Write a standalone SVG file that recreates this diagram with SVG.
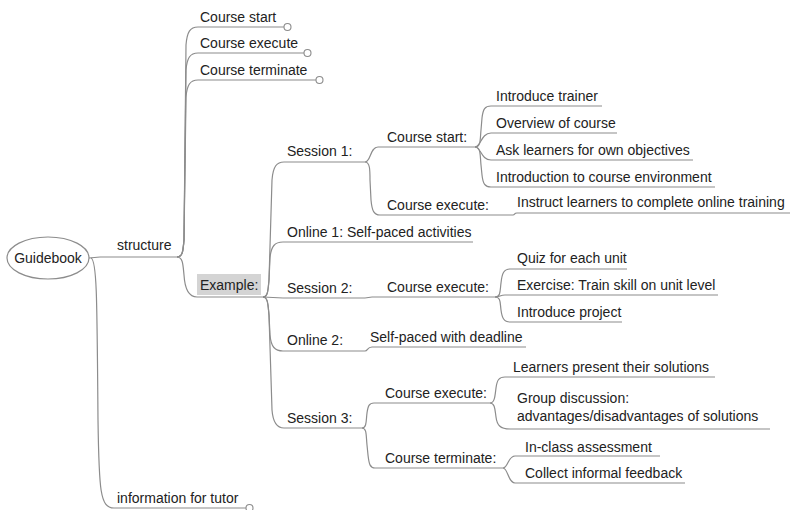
<svg xmlns="http://www.w3.org/2000/svg" width="791" height="510" viewBox="0 0 791 510">
<style>
text{font-family:"Liberation Sans",Arial,sans-serif;font-size:14px;fill:#222}
.u{stroke:#8c8c8c;stroke-width:1.2;fill:none}
.k{stroke:#8c8c8c;stroke-width:1.2;fill:none}
.c{stroke:#8c8c8c;stroke-width:1.1;fill:#fff}
</style>
<rect width="791" height="510" fill="#fff"/>
<g id="connectors">
<path class="k" d="M89 258 L100 257"/>
<path class="k" d="M91 258 C97 260 97 300 98 420 C99 490 100 508 114 508"/>
<path class="k" d="M177 257 C183 257 183 250 184 240 L186 45 C187 32 190 27 198 27"/>
<path class="k" d="M177 257 C183 257 183 250 184 240 L186 70 C187 58 190 53 198 53"/>
<path class="k" d="M177 257 C183 257 183 250 184 240 L186 97 C187 85 190 80 198 80"/>
<path class="k" d="M177 257 C183 257 183 265 184 275 C185 292 190 297 197 297"/>
<path class="k" d="M263 297 C268 297 268 290 269 280 L272 180 C273 166 277 162 284 162"/>
<path class="k" d="M263 297 C268 297 268 290 269 280 L270 258 C271 246 275 242 283 242"/>
<path class="k" d="M263 297 L283 298"/>
<path class="k" d="M263 297 C268 297 268 305 269 315 L270 335 C271 347 275 351 283 351"/>
<path class="k" d="M263 297 C268 297 268 305 269 315 L272 410 C273 423 277 428 284 428"/>
<path class="k" d="M365 162 C371 162 370 147 378 147"/>
<path class="k" d="M365 162 C370 162 370 170 370 180 L371 200 C372 211 374 215 380 215"/>
<path class="k" d="M475 147 C481 147 480 140 481 130 L482 118 C483 109 485 106 491 106"/>
<path class="k" d="M475 147 C481 147 481 133 491 133"/>
<path class="k" d="M475 147 C481 147 481 160 491 160"/>
<path class="k" d="M475 147 C481 147 480 155 481 165 L482 175 C483 184 485 187 491 187"/>
<path class="k" d="M513 215 C515 215 514 213 517 213"/>
<path class="k" d="M365 298 L372 297"/>
<path class="k" d="M495 297 C501 297 500 290 501 283 C502 273 504 269 510 269"/>
<path class="k" d="M495 297 C500 297 500 295 505 295"/>
<path class="k" d="M495 297 C501 297 500 303 501 310 C502 318 504 322 510 322"/>
<path class="k" d="M365 351 C368 351 367 347 372 347"/>
<path class="k" d="M362 428 C367 428 366 420 367 413 C368 406 369 403 374 403"/>
<path class="k" d="M362 428 C367 428 366 436 367 445 L368 455 C369 464 370 468 375 468"/>
<path class="k" d="M490 403 C495 403 495 395 496 388 C497 380 499 377 505 377"/>
<path class="k" d="M490 403 C495 403 495 410 496 417 C497 425 500 429 510 429"/>
<path class="k" d="M503 468 C508 468 508 456 515 456"/>
<path class="k" d="M503 468 C508 468 508 483 515 483"/>
</g>
<g id="guidebook"><ellipse cx="48" cy="258" rx="41" ry="21" fill="#fff" stroke="#8c8c8c" stroke-width="1.2"/><text x="48" y="263" text-anchor="middle">Guidebook</text></g>
<g id="structure"><text x="117" y="250">structure</text><path class="u" d="M100 257 H177"/></g>
<g id="top-course-start"><text x="200" y="22">Course start</text><path class="u" d="M198 27 H284"/><circle class="c" cx="287.5" cy="27" r="3.5"/></g>
<g id="top-course-execute"><text x="200" y="48">Course execute</text><path class="u" d="M198 53 H304"/><circle class="c" cx="307.5" cy="53" r="3.5"/></g>
<g id="top-course-terminate"><text x="200" y="75">Course terminate</text><path class="u" d="M198 80 H316"/><circle class="c" cx="319.5" cy="80" r="3.5"/></g>
<g id="example"><rect x="197" y="274" width="64" height="21" fill="#d4d4d4"/><text x="200" y="290">Example:</text><path class="u" d="M197 297 H263"/></g>
<g id="session1"><text x="287" y="156">Session 1:</text><path class="u" d="M284 162 H365"/></g>
<g id="s1-course-start"><text x="387" y="142">Course start:</text><path class="u" d="M378 147 H475"/></g>
<g id="introduce-trainer"><text x="496" y="101">Introduce trainer</text><path class="u" d="M491 106 H602"/></g>
<g id="overview"><text x="496" y="128">Overview of course</text><path class="u" d="M491 133 H617"/></g>
<g id="ask-learners"><text x="496" y="155">Ask learners for own objectives</text><path class="u" d="M491 160 H693"/></g>
<g id="introduction"><text x="496" y="182">Introduction to course environment</text><path class="u" d="M491 187 H715"/></g>
<g id="s1-course-execute"><text x="387" y="210">Course execute:</text><path class="u" d="M380 215 H513"/></g>
<g id="instruct"><text x="517" y="207">Instruct learners to complete online training</text><path class="u" d="M517 213 H790"/></g>
<g id="online1"><text x="287" y="237">Online 1: Self-paced activities</text><path class="u" d="M283 242 H473"/></g>
<g id="session2"><text x="287" y="293">Session 2:</text><path class="u" d="M283 298 H365"/></g>
<g id="s2-course-execute"><text x="387" y="292">Course execute:</text><path class="u" d="M372 297 H495"/></g>
<g id="quiz"><text x="517" y="263">Quiz for each unit</text><path class="u" d="M510 269 H627"/></g>
<g id="exercise"><text x="517" y="290">Exercise: Train skill on unit level</text><path class="u" d="M505 295 H718"/></g>
<g id="introduce-project"><text x="517" y="317">Introduce project</text><path class="u" d="M510 322 H622"/></g>
<g id="online2"><text x="287" y="345">Online 2:</text><path class="u" d="M283 351 H365"/></g>
<g id="self-paced-deadline"><text x="370" y="342">Self-paced with deadline</text><path class="u" d="M372 347 H526"/></g>
<g id="session3"><text x="287" y="423">Session 3:</text><path class="u" d="M284 428 H362"/></g>
<g id="s3-course-execute"><text x="385" y="398">Course execute:</text><path class="u" d="M374 403 H490"/></g>
<g id="learners-present"><text x="513" y="372">Learners present their solutions</text><path class="u" d="M505 377 H715"/></g>
<g id="group-discussion"><text x="517" y="403">Group discussion:</text><text x="517" y="421">advantages/disadvantages of solutions</text><path class="u" d="M510 429 H770"/></g>
<g id="s3-course-terminate"><text x="385" y="463">Course terminate:</text><path class="u" d="M375 468 H503"/></g>
<g id="in-class"><text x="525" y="452">In-class assessment</text><path class="u" d="M515 456 H660"/></g>
<g id="collect-feedback"><text x="525" y="478">Collect informal feedback</text><path class="u" d="M515 483 H685"/></g>
<g id="info-tutor"><text x="117" y="503">information for tutor</text><path class="u" d="M114 508 H246"/><circle class="c" cx="249.5" cy="508" r="3.5"/></g>
</svg>
